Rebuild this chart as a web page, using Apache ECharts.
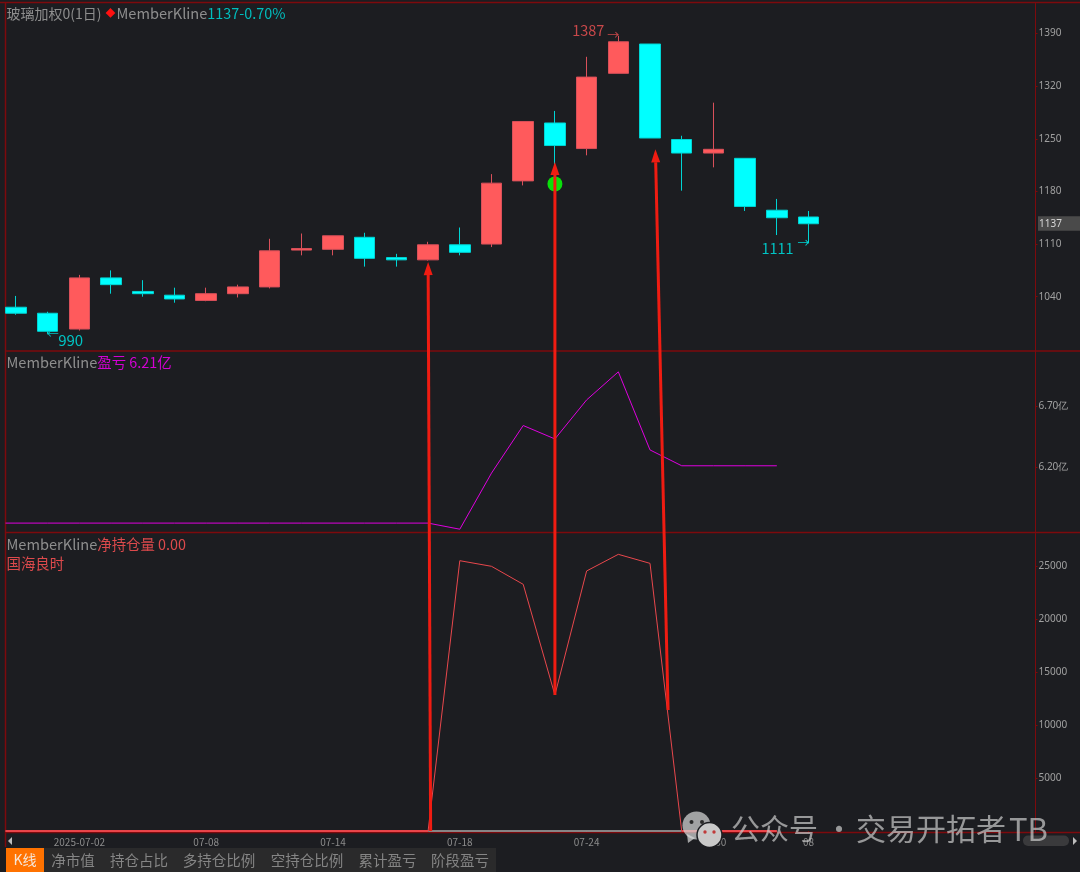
<!DOCTYPE html>
<html>
<head>
<meta charset="utf-8">
<title>玻璃加权0(1日)</title>
<style>
html,body{margin:0;padding:0;background:#1c1d21;}
#main{width:1080px;height:872px;}
</style>
<script src="https://cdn.jsdelivr.net/npm/echarts@6/dist/echarts.min.js"></script>
</head>
<body>
<div id="main"></div>
<script>
//K线数据
var dates=['06-30','07-01','07-02','07-03','07-04','07-07','07-08','07-09','07-10','07-11','07-14','07-15','07-16','07-17','07-18','07-21','07-22','07-23','07-24','07-25','07-28','07-29','07-30','07-31','08-01','08-04'];
var opens =[1026,1018, 997,1065,1047,1042,1035,1044,1053,1102,1103,1119,1092,1089,1109,1110,1194,1271,1237,1337,1376,1249,1231,1224,1155,1146];
var closes=[1018, 994,1065,1056,1044,1037,1044,1053,1101,1104,1121,1091,1089,1109,1099,1191,1273,1241,1332,1379,1251,1231,1236,1160,1145,1137];
var lows  =[1016, 990, 995,1044,1040,1032,1034,1039,1051,1095,1095,1080,1080,1088,1095,1106,1188,1211,1228,1337,1251,1181,1212,1154,1122,1111];
var highs =[1041,1020,1069,1075,1062,1052,1052,1056,1117,1124,1121,1125,1097,1113,1132,1203,1273,1287,1359,1387,1376,1254,1298,1224,1170,1154];

//盈亏(亿)
var profit=[5.74,5.74,5.74,5.74,5.74,5.74,5.74,5.74,5.74,5.74,5.74,5.74,5.74,5.74,5.69,6.15,6.54,6.43,6.75,6.98,6.34,6.21,6.21,6.21,6.21];
//净持仓量
var position=[0,0,0,0,0,0,0,0,0,0,0,0,0,0,25500,24970,23270,12830,24530,26100,25250,0,0,0,0];
//持仓为0的底线,红色和灰色两段
var zeroRed =[0,0,0,0,0,0,0,0,0,0,0,0,0,0,null,null,null,null,null,null,null,0,0,0,0];
var zeroGray=[null,null,null,null,null,null,null,null,null,null,null,null,null,0,0,0,0,0,0,0,0,0];

//坐标轴刻度
var priceTicks=[1040,1110,1180,1250,1320,1390];
var profitTicks=[6.2,6.7];
var positionTicks=[5000,10000,15000,20000,25000];
var dateTickIndex=[2,6,10,14,18,22,25];
var dateTickLabels=['2025-07-02','07-08','07-14','07-18','07-24','07-30','08'];

//手工画的箭头 [底部x,底部持仓量,箭头x,箭头价格]
var arrows=[
	[13.08,0,13.0,1086],
	[17.0,12830,17.0,1219],
	[20.57,11415,20.17,1236]
];
var tabs=['净市值','持仓占比','多持仓比例','空持仓比例','累计盈亏','阶段盈亏'];
var tabCenters=[73,139,219,307,387.5,460];

var FONT='"Noto Sans CJK SC","Noto Sans",sans-serif';
var RED='#ff5a5c',CYAN='#00ffff',LINE='#7d0a0d',TICK='#a0a0a0';
var X_MIN=-0.331,X_MAX=32.16;

//线从图的最左边开始画,第一根K线被裁掉了一半
function toXY(arr){
	var out=[[X_MIN,arr[0]]];
	for(var i=0;i<arr.length;i++){
		out.push([i,arr[i]]);
	}
	return out;
}

var candleData=dates.map(function(d,i){
	return [i,opens[i],closes[i],lows[i],highs[i]];
});

function xAxisOf(idx,showLabel){
	return {
		type:'value',gridIndex:idx,min:X_MIN,max:X_MAX,
		splitLine:{show:false},
		axisLine:{show:false},
		axisTick:showLabel?{show:true,customValues:dateTickIndex,length:2,lineStyle:{color:LINE}}:{show:false},
		axisLabel:showLabel?{
			show:true,customValues:dateTickIndex,margin:5,color:'#8c8c8c',fontSize:10,fontFamily:FONT,
			formatter:function(v){return dateTickLabels[dateTickIndex.indexOf(v)];}
		}:{show:false}
	};
}
function yAxisOf(idx,min,max,ticks,fmt){
	return {
		type:'value',gridIndex:idx,position:'right',min:min,max:max,
		splitLine:{show:false},
		axisLine:{show:true,onZero:false,lineStyle:{color:LINE}},
		axisTick:{show:true,customValues:ticks,length:2,lineStyle:{color:LINE}},
		axisLabel:{show:true,customValues:ticks,margin:3,padding:[3,0,0,0],color:TICK,fontSize:10,fontFamily:'"Noto Sans",sans-serif',formatter:fmt}
	};
}
//高低点标注
function note(x,y,text,color,size,dx,dy){
	return {
		coord:[x,y],symbol:'circle',symbolSize:1,
		itemStyle:{color:'rgba(0,0,0,0)'},
		label:{show:true,position:'inside',formatter:text,color:color,fontSize:size,fontFamily:FONT,offset:[dx,dy]}
	};
}
function head(gray,color,text){
	return '{g|'+gray+'}{c'+color+'|'+text+'}';
}
var titleRich={
	a:{color:'#8e8e8e',fontSize:14,fontWeight:'normal',fontFamily:FONT},
	g:{color:'#8e8e8e',fontSize:14.6,fontWeight:'normal',fontFamily:FONT},
	d:{color:'#ff1010',fontSize:10,fontWeight:'normal',fontFamily:FONT,padding:[0,1,0,4]},
	c1:{color:'#00bdbd',fontSize:14.4,fontWeight:'normal',fontFamily:FONT},
	c2:{color:'#d400d4',fontSize:14.4,fontWeight:'normal',fontFamily:FONT},
	c3:{color:'#dd4a4c',fontSize:14.4,fontWeight:'normal',fontFamily:FONT}
};

var chart=echarts.init(document.getElementById('main'),null,{renderer:'canvas'});
var option={
	backgroundColor:'#1c1d21',
	animation:false,
	title:[
		{left:6.5,top:6,padding:0,text:'{a|玻璃加权0(1日)}{d|◆}'+head('MemberKline',1,'1137-0.70%'),textStyle:{rich:titleRich}},
		{left:6.5,top:355,padding:0,text:head('MemberKline',2,'盈亏 6.21亿'),textStyle:{rich:titleRich}},
		{left:6.5,top:537,padding:0,text:head('MemberKline',3,'净持仓量 0.00'),textStyle:{rich:titleRich}},
		{left:6.5,top:556,padding:0,text:'{c3|国海良时}',textStyle:{rich:titleRich}}
	],
	grid:[
		{left:5.5,right:44.5,top:2.5,height:348.5},
		{left:5.5,right:44.5,top:351,height:181.5},
		{left:5.5,right:44.5,top:532.5,height:300}
	],
	xAxis:[xAxisOf(0,false),xAxisOf(1,false),xAxisOf(2,true)],
	yAxis:[
		yAxisOf(0,967.8,1431.2,priceTicks,function(v){return v;}),
		yAxisOf(1,5.663,7.151,profitTicks,function(v){return v.toFixed(2)+'亿';}),
		yAxisOf(2,-141,28160,positionTicks,function(v){return v;})
	],
	series:[
		{
			type:'candlestick',xAxisIndex:0,yAxisIndex:0,barWidth:21,
			data:candleData,
			itemStyle:{color:RED,color0:CYAN,borderColor:'#d9505a',borderColor0:'#00d4d4',borderWidth:1},
			markPoint:{
				silent:true,
				data:[
					note(19,1387,'1387','#c8484a',14.5,-30,-5),
					note(19,1387,'→','#c8484a',12,-5,0),
					note(1,990,'990','#00c4c4',15,23,6),
					note(1,990,'←','#00c4c4',12,5,0),
					note(25,1111,'1111','#00c4c4',14.5,-31,5),
					note(25,1111,'→','#00d4d4',12,-5,0),
					{coord:[17,1190],symbol:'circle',symbolSize:15,itemStyle:{color:'#0ae00a'},label:{show:false}}
				]
			}
		},
		{
			type:'line',xAxisIndex:1,yAxisIndex:1,showSymbol:false,
			data:toXY(profit),
			lineStyle:{color:'#e000e0',width:1}
		},
		{
			type:'line',xAxisIndex:2,yAxisIndex:2,showSymbol:false,
			data:toXY(zeroGray),
			lineStyle:{color:'#a8a8a8',width:1.5}
		},
		{
			type:'line',xAxisIndex:2,yAxisIndex:2,showSymbol:false,
			data:toXY(zeroRed),
			lineStyle:{color:'#ea4449',width:2}
		},
		{
			type:'line',xAxisIndex:2,yAxisIndex:2,showSymbol:false,
			data:toXY(position),
			lineStyle:{color:'#e8474c',width:1}
		}
	]
};
chart.setOption(option);

//箭头和价格标签要用坐标换算,所以放在setOption之后
function overlay(){
	var els=[];
	//分割线
	var edges=[2.5,351,532.5,832.5];
	for(var i=0;i<edges.length;i++){
		els.push({type:'line',z:1,shape:{x1:i==0?0:5,y1:edges[i],x2:1080,y2:edges[i]},style:{stroke:LINE,lineWidth:1.5}});
	}
	els.push({type:'line',z:1,shape:{x1:5.5,y1:2.5,x2:5.5,y2:847},style:{stroke:LINE,lineWidth:1.5}});

	//箭头
	arrows.forEach(function(a){
		var p0=chart.convertToPixel({xAxisIndex:2,yAxisIndex:2},[a[0],a[1]]);
		var p1=chart.convertToPixel({xAxisIndex:0,yAxisIndex:0},[a[2],a[3]]);
		var dx=p1[0]-p0[0],dy=p1[1]-p0[1];
		var len=Math.sqrt(dx*dx+dy*dy);
		var ux=dx/len,uy=dy/len;
		var bx=p1[0]-ux*13,by=p1[1]-uy*13;
		els.push({type:'line',z:100,shape:{x1:p0[0],y1:p0[1],x2:bx,y2:by},style:{stroke:'#f01c12',lineWidth:3}});
		els.push({type:'polygon',z:100,shape:{points:[[p1[0],p1[1]],[bx-uy*4.5,by+ux*4.5],[bx+uy*4.5,by-ux*4.5]]},style:{fill:'#f01c12'}});
	});

	//最新价
	var last=chart.convertToPixel({xAxisIndex:0,yAxisIndex:0},[0,closes[closes.length-1]]);
	els.push({type:'rect',z:60,shape:{x:1038,y:last[1]-7.5,width:42,height:14.5},style:{fill:'#4a4a4a'}});
	els.push({type:'text',z:61,x:1039,y:last[1],style:{text:String(closes[closes.length-1]),fill:'#d8d8d8',font:'10px "Noto Sans",sans-serif',textVerticalAlign:'middle'}});

	//底部标签栏
	els.push({type:'rect',z:5,shape:{x:44,y:848,width:452,height:24},style:{fill:'#2a2a2b'}});
	els.push({type:'rect',z:6,shape:{x:6,y:848,width:38,height:24},style:{fill:'#ff7200'}});
	els.push({type:'text',z:7,x:25,y:860,style:{text:'K线',fill:'#f5e6d8',font:'14px '+FONT,textAlign:'center',textVerticalAlign:'middle'}});
	tabs.forEach(function(t,i){
		els.push({type:'text',z:7,x:tabCenters[i],y:860,style:{text:t,fill:'#858585',font:'14.5px '+FONT,textAlign:'center',textVerticalAlign:'middle'}});
	});

	//滚动条
	els.push({type:'polygon',z:7,shape:{points:[[8,841],[12,837],[12,845]]},style:{fill:'#bdbdbd'}});
	els.push({type:'rect',z:7,shape:{x:1023,y:835.5,width:46,height:10.5,r:5},style:{fill:'#3a3a3c'}});
	els.push({type:'polygon',z:7,shape:{points:[[1077,841],[1073,837],[1073,845]]},style:{fill:'#bdbdbd'}});

	//水印
	var wm='rgba(214,214,214,0.72)';
	var wmText='rgba(200,200,200,0.72)';
	els.push({type:'circle',z:110,shape:{cx:696.5,cy:825.5,r:14},style:{fill:wm}});
	els.push({type:'polygon',z:110,shape:{points:[[687,834],[695,838],[688,843]]},style:{fill:wm}});
	els.push({type:'circle',z:111,shape:{cx:709.5,cy:835,r:12.5},style:{fill:'#c9c9c9',stroke:'#1c1d21',lineWidth:1.5}});
	els.push({type:'circle',z:112,shape:{cx:691.5,cy:822,r:2},style:{fill:'#2a2a2a'}});
	els.push({type:'circle',z:112,shape:{cx:702,cy:822,r:2},style:{fill:'#2a2a2a'}});
	els.push({type:'circle',z:112,shape:{cx:705,cy:832,r:1.7},style:{fill:'#c03a3a'}});
	els.push({type:'circle',z:112,shape:{cx:714,cy:832,r:1.7},style:{fill:'#c03a3a'}});
	els.push({type:'text',z:110,x:731,y:829,style:{text:'公众号 ·',fill:wmText,font:'29px '+FONT,textVerticalAlign:'middle'}});
	els.push({type:'text',z:110,x:856,y:829,style:{text:'交易开拓者',fill:wmText,font:'30px '+FONT,textVerticalAlign:'middle'}});
	els.push({type:'text',z:110,x:1009,y:829,style:{text:'TB',fill:wmText,font:'31px '+FONT,textVerticalAlign:'middle'}});

	chart.setOption({graphic:{elements:els}});
}
overlay();
</script>
</body>
</html>
